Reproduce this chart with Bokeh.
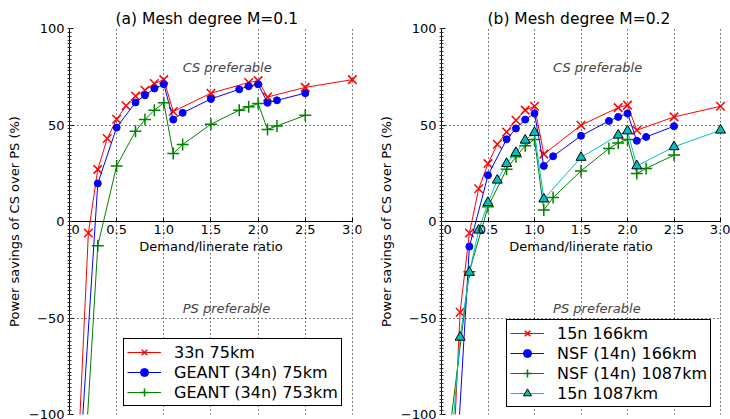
from bokeh.plotting import figure
from bokeh.models import Range1d, FixedTicker, Label, Legend, LegendItem, PrintfTickFormatter
from bokeh.layouts import row
from bokeh.embed import file_html
from bokeh.resources import INLINE
import numpy as np

# ---------------- data ----------------
# Panel (a): mesh degree M=0.1
xa_33n = [0.1, 0.2, 0.3, 0.4, 0.5, 0.6, 0.7, 0.8, 0.9, 1.0, 1.1, 1.5, 1.9, 2.0, 2.1, 2.5, 3.0]
ya_33n_75 = [-112, -6, 27, 43, 53, 60, 65, 68, 71.5, 73.5, 57, 66.5, 72, 73, 64.5, 69.5, 73.5]
xa_geant = [0.1, 0.3, 0.5, 0.7, 0.8, 0.9, 1.0, 1.1, 1.2, 1.5, 1.8, 1.9, 2.0, 2.1, 2.2, 2.5]
ya_geant_75 = [-132, 19.7, 48.7, 61.7, 65.4, 68.9, 71.1, 52.8, 56.3, 63.5, 68.5, 70.1, 71.1, 61.5, 62.8, 66.5]
ya_geant_753 = [-175, -12.5, 28.8, 46.8, 52.8, 57.7, 61.5, 35.2, 39.9, 50.4, 57.7, 59.4, 61.1, 47.7, 49.5, 55]

# Panel (b): mesh degree M=0.2
xb_15n = [0.1, 0.2, 0.3, 0.4, 0.5, 0.6, 0.7, 0.8, 0.9, 1.0, 1.1, 1.5, 1.9, 2.0, 2.1, 2.5, 3.0]
yb_15n_166 = [-150, -47, -6, 17, 30, 40, 46.4, 52.5, 57.7, 59.7, 34.9, 49.9, 59, 60.3, 47.3, 54.2, 59.7]
yb_15n_1087 = [-119, -60, -26.4, -4.5, 9.8, 21.4, 30, 35.7, 42.1, 46.1, 11.6, 33.2, 44.7, 46.9, 28.8, 38.7, 47.3]
xb_nsf = [0.1, 0.3, 0.5, 0.7, 0.8, 0.9, 1.0, 1.1, 1.2, 1.5, 1.8, 1.9, 2.0, 2.1, 2.2, 2.5]
yb_nsf_166 = [-177, -13, 24, 42.6, 48.2, 52.8, 56, 28.8, 33.8, 44.4, 52.1, 54.2, 56, 41.8, 43.8, 49.4]
yb_nsf_1087 = [-104, -26, 7.6, 27.1, 33.5, 39.2, 42.5, 5.9, 12.4, 26.2, 37.8, 40.7, 42.5, 24.9, 27.5, 34.4]

x_ticks = [0.0, 0.5, 1.0, 1.5, 2.0, 2.5, 3.0]
y_ticks = [-100, -50, 0, 50, 100]
y_tick_labels = {-100: "\u2212100", -50: "\u221250", 0: "0", 50: "50", 100: "100"}

FONT = "DejaVu Sans"
STYLES = {
    "x": dict(marker="x", size=12, line_color="#ff0000", fill_color="#ff0000", line_width=1.5, color="#ff0000"),
    "o": dict(marker="circle", size=7, line_color="#0000ff", fill_color="#0000ff", line_width=1, color="#0000ff"),
    "+": dict(marker="cross", size=12, line_color="#008000", fill_color="#008000", line_width=1.5, color="#008000"),
    "^": dict(marker="triangle", size=10, line_color="#000000", fill_color="#00bfbf", line_width=1, color="#00bfbf"),
}

PX_PER_UNIT = 94.3
HEIGHT = 419
TOP = 28
BOTTOM = 5


def make_panel(width, left, right, title, series, legend_loc):
    frame_w = width - left - right
    x_end = frame_w / PX_PER_UNIT
    p = figure(width=width, height=HEIGHT, x_range=Range1d(0, x_end), y_range=Range1d(-100, 100),
               title=title, output_backend="svg", toolbar_location=None,
               min_border_left=left, min_border_right=right, min_border_top=TOP, min_border_bottom=BOTTOM)
    p.outline_line_color = None
    p.background_fill_color = "white"
    p.border_fill_color = "white"

    p.title.text_font = FONT
    p.title.text_font_size = "15.5px"
    p.title.text_font_style = "normal"
    p.title.text_color = "black"
    p.title.align = "left"
    p.title.offset = 46
    p.title.standoff = 2

    xt = FixedTicker(ticks=x_ticks)
    yt = FixedTicker(ticks=y_ticks, minor_ticks=list(np.arange(-100, 101, 2)))
    xa = p.xaxis[0]
    xa.fixed_location = 0
    xa.bounds = (0, 3)
    xa.ticker = xt
    xa.formatter = PrintfTickFormatter(format="%.1f")
    xa.axis_label = "Demand/linerate ratio"
    ya = p.yaxis[0]
    ya.ticker = yt
    ya.major_label_overrides = y_tick_labels
    ya.axis_label = "Power savings of CS over PS (%)"
    for ax in (xa, ya):
        ax.axis_line_color = "black"
        ax.axis_line_width = 1
        ax.major_tick_in = 4
        ax.major_tick_out = 0
        ax.major_tick_line_color = "black"
        ax.major_label_standoff = 3
        ax.major_label_text_font = FONT
        ax.major_label_text_font_size = "13px"
        ax.major_label_text_color = "black"
        ax.axis_label_text_font = FONT
        ax.axis_label_text_font_size = "13px"
        ax.axis_label_text_font_style = "normal"
        ax.axis_label_text_color = "black"
    xa.minor_tick_line_color = None
    xa.axis_label_standoff = 2
    ya.minor_tick_in = 2
    ya.minor_tick_out = 2
    ya.minor_tick_line_color = "#333333"
    ya.axis_label_standoff = 4

    p.xgrid.ticker = xt
    p.ygrid.ticker = yt
    try:
        p.ygrid.cross_bounds = (0, 3)
    except Exception:
        pass
    for g in (p.xgrid, p.ygrid):
        g.grid_line_color = "black"
        g.grid_line_dash = "1 3"
        g.grid_line_width = 1
        g.grid_line_alpha = 1

    items = []
    for label, xs, ys, key in series:
        st = dict(STYLES[key])
        col = st.pop("color")
        ln = p.line(xs, ys, line_color=col, line_width=1)
        sc = p.scatter(xs, ys, **st)
        items.append(LegendItem(label=label, renderers=[ln, sc]))

    leg = Legend(items=items, location=legend_loc, margin=0, padding=3, spacing=0,
                 label_height=20, glyph_height=20, glyph_width=34, label_standoff=13,
                 label_text_font=FONT, label_text_font_size="16px", label_text_color="black",
                 label_text_line_height=1.0,
                 border_line_color="black", border_line_width=1, border_line_alpha=1,
                 background_fill_color="white", background_fill_alpha=1)
    p.add_layout(leg)

    p.add_layout(Label(x=1.2, y=80, text="CS preferable", text_font=FONT, text_font_style="italic",
                       text_font_size="13px", text_baseline="alphabetic", text_align="left"))
    p.add_layout(Label(x=1.2, y=-45, text="PS preferable", text_font=FONT, text_font_style="italic",
                       text_font_size="13px", text_baseline="alphabetic", text_align="left"))
    return p


WA, LA, RA = 375, 69, 14
WB, LB, RB = 355, 62, 0

pa = make_panel(WA, LA, RA, "(a) Mesh degree M=0.1", [
    ("33n 75km", xa_33n, ya_33n_75, "x"),
    ("GEANT (34n) 75km", xa_geant, ya_geant_75, "o"),
    ("GEANT (34n) 753km", xa_geant, ya_geant_753, "+"),
], (54, 8))

pb = make_panel(WB, LB, RB, "(b) Mesh degree M=0.2", [
    ("15n 166km", xb_15n, yb_15n_166, "x"),
    ("NSF (14n) 166km", xb_nsf, yb_nsf_166, "o"),
    ("NSF (14n) 1087km", xb_nsf, yb_nsf_1087, "+"),
    ("15n 1087km", xb_15n, yb_15n_1087, "^"),
], (65, 7))

layout = row(pa, pb)
open("out.html", "w").write(file_html(layout, INLINE))
